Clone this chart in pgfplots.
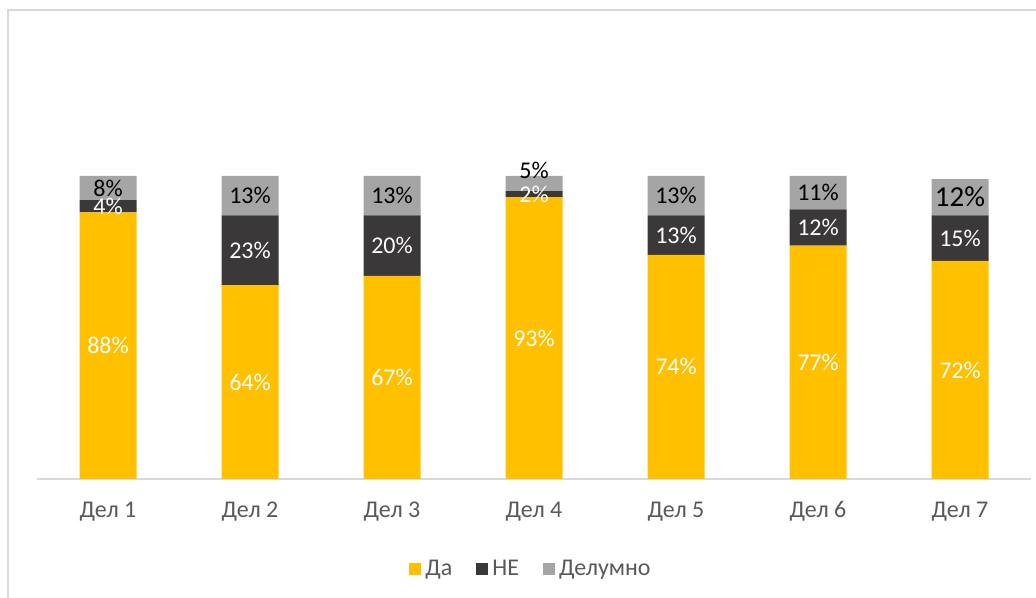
\documentclass[border=0pt]{standalone}
\usepackage{pgfplots}
\pgfplotsset{compat=1.18}
\usepackage{pgfplotstable}
\usepackage{fontspec}
\setmainfont{Carlito}
\definecolor{cyel}{HTML}{FFC000}
\definecolor{cdark}{HTML}{3A3838}
\definecolor{cgray}{HTML}{A5A5A5}
\definecolor{ctext}{HTML}{595959}
\definecolor{cframe}{HTML}{D9D9D9}
\newcommand\fs{\fontsize{12pt}{14pt}\selectfont}
\newcommand\bigfs{\fontsize{14.5pt}{16pt}\selectfont}

\pgfplotstableread{
x da ne del dy lab
0 88 4 8 0 8\%
1 64 23 13 0 13\%
2 67 20 13 0 13\%
3 93 2 5 4.5 5\%
4 74 13 13 0 13\%
5 77 12 11 0 11\%
6 72 15 12 0 {\bigfs 12\%}
}\data

\begin{document}
\begin{tikzpicture}
\useasboundingbox (0,0) rectangle (518pt,299pt);
\draw[cframe, line width=1pt] (4pt,-10pt) rectangle (530pt,294pt);
\begin{axis}[
  at={(18.5pt,59.5pt)}, anchor=south west,
  scale only axis, width=497pt, height=151.5pt,
  ymin=0, ymax=100, xmin=-0.5, xmax=6.5,
  clip=false,
  ybar stacked, bar width=28.5pt,
  axis y line=none, axis x line*=bottom,
  x axis line style={-, draw=cframe, line width=0.75pt},
  xtick=data, xticklabels={Дел 1,Дел 2,Дел 3,Дел 4,Дел 5,Дел 6,Дел 7},
  major tick length=0pt, xtick style={draw=none},
  xticklabel style={font=\fs, text=ctext, anchor=base, yshift=-19pt},
  /pgf/number format/assume math mode=true,
  legend style={at={(0.498,-0.297)}, anchor=center, draw=none, fill=none,
    legend columns=-1, font=\fs, text=ctext,
    /tikz/every even column/.append style={column sep=10pt}},
  legend image code/.code={\fill[#1] (0pt,-3pt) rectangle (6pt,3pt);},
]
\addplot[fill=cyel, draw=none,
  point meta=explicit,
  nodes near coords={\pgfmathprintnumber{\pgfplotspointmeta}\%},
  every node near coord/.append style={anchor=center, text=white, font=\fs}]
  table[x=x,y=da,meta=da]{\data};
\addplot[fill=cdark, draw=none,
  point meta=explicit,
  nodes near coords={\pgfmathprintnumber{\pgfplotspointmeta}\%},
  every node near coord/.append style={anchor=center, text=white, font=\fs}]
  table[x=x,y=ne,meta=ne]{\data};
\addplot[fill=cgray, draw=none,
  visualization depends on=\thisrow{dy} \as \dy,
  point meta=explicit symbolic,
  nodes near coords={\pgfplotspointmeta},
  every node near coord/.append style={shift={(axis direction cs:0,\dy)}, anchor=center, text=black, font=\fs}]
  table[x=x,y=del,meta=lab]{\data};
\legend{Да,НЕ,Делумно}
\end{axis}
\end{tikzpicture}
\end{document}
